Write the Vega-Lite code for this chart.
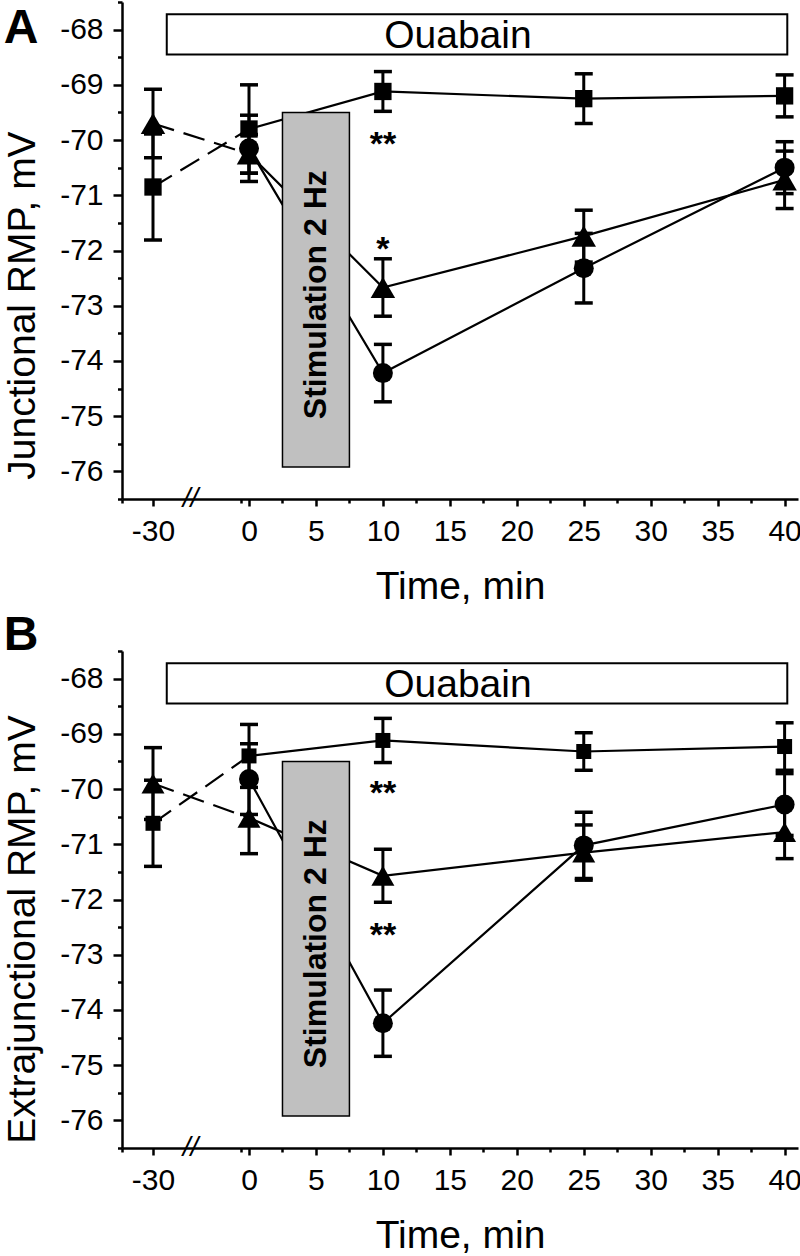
{
  "$schema": "https://vega.github.io/schema/vega-lite/v6.json",
  "background": "white",
  "padding": {"left": 3, "top": 0, "right": 0, "bottom": 0},
  "spacing": 5,
  "config": {
    "font": "Liberation Sans",
    "view": {"stroke": null},
    "axis": {
      "domainColor": "black", "domainWidth": 2.5, "tickColor": "black", "tickWidth": 2.5,
      "labelColor": "black", "titleColor": "black", "labelFont": "Liberation Sans", "titleFont": "Liberation Sans",
      "labelFontSize": 30, "titleFontSize": 39, "titleFontWeight": "normal", "grid": false,
      "labelExpr": "replace(datum.label, '\u2212', '-')"
    },
    "title": {"fontSize": 48, "fontWeight": "bold", "anchor": "start", "frame": "bounds", "baseline": "alphabetic", "offset": 2, "color": "black", "font": "Liberation Sans"}
  },
  "datasets": {
    "boxes": [
      {"kind": "ouabain", "t": -25.7, "t2": 40.2, "v": -67.72, "v2": -68.45},
      {"kind": "stim", "t": 2.5, "t2": 7.5, "v": -69.5, "v2": -75.92}
    ],
    "labels": [
      {"kind": "ouabain", "t": 15.6, "v": -68.12, "label": "Ouabain"},
      {"kind": "stim", "t": 5, "v": -72.8, "label": "Stimulation 2 Hz"},
      {"kind": "break", "t": -18.3, "v": -76.5, "label": "//"}
    ],
    "pointsA": [
      {"s": "circle", "t": 0, "v": -70.15, "e": 0.6},
      {"s": "circle", "t": 10, "v": -74.22, "e": 0.52},
      {"s": "circle", "t": 25, "v": -72.32, "e": 0.63},
      {"s": "circle", "t": 40, "v": -70.5, "e": 0.47},
      {"s": "square", "t": -30, "v": -70.85, "e": 0.96},
      {"s": "square", "t": 0, "v": -69.8, "e": 0.8},
      {"s": "square", "t": 10, "v": -69.12, "e": 0.36},
      {"s": "square", "t": 25, "v": -69.25, "e": 0.45},
      {"s": "square", "t": 40, "v": -69.2, "e": 0.38},
      {"s": "triangle", "t": -30, "v": -69.7, "e": 0.62},
      {"s": "triangle", "t": 0, "v": -70.25, "e": 0.35},
      {"s": "triangle", "t": 10, "v": -72.67, "e": 0.52},
      {"s": "triangle", "t": 25, "v": -71.74, "e": 0.47},
      {"s": "triangle", "t": 40, "v": -70.72, "e": 0.52}
    ],
    "pointsB": [
      {"s": "circle", "t": 0, "v": -69.82, "e": 0.64},
      {"s": "circle", "t": 10, "v": -74.24, "e": 0.6},
      {"s": "circle", "t": 25, "v": -71.02, "e": 0.6},
      {"s": "circle", "t": 40, "v": -70.28, "e": 0.56},
      {"s": "square", "t": -30, "v": -70.62, "e": 0.78},
      {"s": "square", "t": 0, "v": -69.4, "e": 0.57},
      {"s": "square", "t": 10, "v": -69.12, "e": 0.4},
      {"s": "square", "t": 25, "v": -69.32, "e": 0.34},
      {"s": "square", "t": 40, "v": -69.23, "e": 0.43},
      {"s": "triangle", "t": -30, "v": -69.9, "e": 0.65},
      {"s": "triangle", "t": 0, "v": -70.52, "e": 0.65},
      {"s": "triangle", "t": 10, "v": -71.57, "e": 0.48},
      {"s": "triangle", "t": 25, "v": -71.15, "e": 0.5},
      {"s": "triangle", "t": 40, "v": -70.78, "e": 0.48}
    ],
    "starsA": [
      {"t": 10, "v": -69.93, "label": "**"},
      {"t": 10, "v": -71.83, "label": "*"}
    ],
    "starsB": [
      {"t": 10, "v": -69.93, "label": "**"},
      {"t": 10, "v": -72.5, "label": "**"}
    ]
  },
  "vconcat": [
    {
      "width": 676, "height": 497,
      "title": {"text": "A", "dy": 54},
      "encoding": {
        "x": {"field": "t", "type": "quantitative", "scale": {"type": "linear", "domain": [-32.5, -30, 0, 41], "range": [0, 31, 127, 676], "nice": false, "zero": false}, "axis": null},
        "y": {"field": "v", "type": "quantitative", "scale": {"domain": [-76.5, -67.5], "nice": false, "zero": false}, "axis": null}
      },
      "resolve": {"axis": {"x": "independent", "y": "independent"}},
      "layer": [
        {
          "data": {"name": "boxes"},
          "transform": [{"filter": "datum.kind == 'ouabain'"}],
          "mark": {"type": "rect", "fill": "white", "stroke": "black", "strokeWidth": 2},
          "encoding": {
            "x": {"field": "t", "type": "quantitative", "scale": {"type": "linear", "domain": [-32.5, -30, 0, 41], "range": [0, 31, 127, 676], "nice": false, "zero": false},
              "axis": {"orient": "bottom", "values": [-30, 0, 5, 10, 15, 20, 25, 30, 35, 40], "title": "Time, min", "tickSize": 7, "labelPadding": 10, "titlePadding": 21, "labelFlush": false, "labelOverlap": false}},
            "y": {"field": "v", "type": "quantitative", "scale": {"domain": [-76.5, -67.5], "nice": false, "zero": false},
              "axis": {"orient": "left", "values": [-76, -75, -74, -73, -72, -71, -70, -69, -68], "title": "Junctional RMP, mV", "tickSize": 9, "labelPadding": 10, "titlePadding": 17, "titleY": 303, "labelOverlap": false}},
            "x2": {"field": "t2"},
            "y2": {"field": "v2"}
          }
        },
        {
          "data": {"name": "labels"},
          "transform": [{"filter": "datum.kind == 'ouabain'"}],
          "mark": {"type": "text", "fontSize": 39, "align": "center", "baseline": "middle", "color": "black"},
          "encoding": {
            "x": {"field": "t", "type": "quantitative", "scale": {"type": "linear", "domain": [-32.5, -30, 0, 41], "range": [0, 31, 127, 676], "nice": false, "zero": false},
              "axis": {"orient": "bottom", "values": [-32.5, -2.5, 2.5, 7.5, 12.5, 17.5, 22.5, 27.5, 32.5, 37.5], "labels": false, "domain": false, "title": null, "tickSize": 4}},
            "y": {"field": "v", "type": "quantitative", "scale": {"domain": [-76.5, -67.5], "nice": false, "zero": false},
              "axis": {"orient": "left", "values": [-76.5, -75.5, -74.5, -73.5, -72.5, -71.5, -70.5, -69.5, -68.5, -67.5], "labels": false, "domain": false, "title": null, "tickSize": 4.5}},
            "text": {"field": "label"}
          }
        },
        {
          "data": {"name": "pointsA"},
          "transform": [{"filter": "datum.t <= 0"}],
          "mark": {"type": "line", "color": "black", "strokeWidth": 2.2, "strokeDash": [22, 10]},
          "encoding": {"detail": {"field": "s"}}
        },
        {
          "data": {"name": "pointsA"},
          "transform": [{"filter": "datum.t >= 0"}],
          "mark": {"type": "line", "color": "black", "strokeWidth": 2.2},
          "encoding": {"detail": {"field": "s"}}
        },
        {
          "data": {"name": "boxes"},
          "transform": [{"filter": "datum.kind == 'stim'"}],
          "mark": {"type": "rect", "fill": "#c0c0c0", "stroke": "black", "strokeWidth": 1.5},
          "encoding": {"x2": {"field": "t2"}, "y2": {"field": "v2"}}
        },
        {
          "data": {"name": "labels"},
          "transform": [{"filter": "datum.kind == 'stim'"}],
          "mark": {"type": "text", "fontSize": 32, "fontWeight": "bold", "angle": 270, "align": "center", "baseline": "middle", "color": "black"},
          "encoding": {"text": {"field": "label"}}
        },
        {
          "data": {"name": "labels"},
          "transform": [{"filter": "datum.kind == 'break'"}],
          "mark": {"type": "text", "fontSize": 28, "fontStyle": "italic", "align": "center", "baseline": "middle", "color": "black"},
          "encoding": {"text": {"field": "label"}}
        },
        {
          "data": {"name": "pointsA"},
          "mark": {"type": "errorbar", "ticks": {"size": 18, "thickness": 3.5, "color": "black", "opacity": 1}, "rule": {"strokeWidth": 3, "color": "black", "opacity": 1}},
          "encoding": {"yError": {"field": "e"}}
        },
        {
          "data": {"name": "pointsA"},
          "transform": [{"filter": "datum.s == 'circle'"}],
          "mark": {"type": "point", "shape": "circle", "size": 400, "filled": true, "color": "black", "opacity": 1}
        },
        {
          "data": {"name": "pointsA"},
          "transform": [{"filter": "datum.s == 'square'"}],
          "mark": {"type": "point", "shape": "square", "size": 300, "filled": true, "color": "black", "opacity": 1}
        },
        {
          "data": {"name": "pointsA"},
          "transform": [{"filter": "datum.s == 'triangle'"}],
          "mark": {"type": "point", "shape": "triangle-up", "size": 600, "filled": true, "color": "black", "opacity": 1}
        },
        {
          "data": {"name": "starsA"},
          "mark": {"type": "text", "fontSize": 34, "fontWeight": "bold", "align": "center", "baseline": "alphabetic", "dy": 19, "color": "black"},
          "encoding": {"text": {"field": "label"}}
        }
      ]
    },
    {
      "width": 676, "height": 497,
      "title": {"text": "B", "dy": 12},
      "encoding": {
        "x": {"field": "t", "type": "quantitative", "scale": {"type": "linear", "domain": [-32.5, -30, 0, 41], "range": [0, 31, 127, 676], "nice": false, "zero": false}, "axis": null},
        "y": {"field": "v", "type": "quantitative", "scale": {"domain": [-76.5, -67.5], "nice": false, "zero": false}, "axis": null}
      },
      "resolve": {"axis": {"x": "independent", "y": "independent"}},
      "layer": [
        {
          "data": {"name": "boxes"},
          "transform": [{"filter": "datum.kind == 'ouabain'"}],
          "mark": {"type": "rect", "fill": "white", "stroke": "black", "strokeWidth": 2},
          "encoding": {
            "x": {"field": "t", "type": "quantitative", "scale": {"type": "linear", "domain": [-32.5, -30, 0, 41], "range": [0, 31, 127, 676], "nice": false, "zero": false},
              "axis": {"orient": "bottom", "values": [-30, 0, 5, 10, 15, 20, 25, 30, 35, 40], "title": "Time, min", "tickSize": 7, "labelPadding": 10, "titlePadding": 21, "labelFlush": false, "labelOverlap": false}},
            "y": {"field": "v", "type": "quantitative", "scale": {"domain": [-76.5, -67.5], "nice": false, "zero": false},
              "axis": {"orient": "left", "values": [-76, -75, -74, -73, -72, -71, -70, -69, -68], "title": "Extrajunctional RMP, mV", "tickSize": 9, "labelPadding": 10, "titlePadding": 17, "titleY": 278, "labelOverlap": false}},
            "x2": {"field": "t2"},
            "y2": {"field": "v2"}
          }
        },
        {
          "data": {"name": "labels"},
          "transform": [{"filter": "datum.kind == 'ouabain'"}],
          "mark": {"type": "text", "fontSize": 39, "align": "center", "baseline": "middle", "color": "black"},
          "encoding": {
            "x": {"field": "t", "type": "quantitative", "scale": {"type": "linear", "domain": [-32.5, -30, 0, 41], "range": [0, 31, 127, 676], "nice": false, "zero": false},
              "axis": {"orient": "bottom", "values": [-32.5, -2.5, 2.5, 7.5, 12.5, 17.5, 22.5, 27.5, 32.5, 37.5], "labels": false, "domain": false, "title": null, "tickSize": 4}},
            "y": {"field": "v", "type": "quantitative", "scale": {"domain": [-76.5, -67.5], "nice": false, "zero": false},
              "axis": {"orient": "left", "values": [-76.5, -75.5, -74.5, -73.5, -72.5, -71.5, -70.5, -69.5, -68.5, -67.5], "labels": false, "domain": false, "title": null, "tickSize": 4.5}},
            "text": {"field": "label"}
          }
        },
        {
          "data": {"name": "pointsB"},
          "transform": [{"filter": "datum.t <= 0"}],
          "mark": {"type": "line", "color": "black", "strokeWidth": 2.2, "strokeDash": [22, 10]},
          "encoding": {"detail": {"field": "s"}}
        },
        {
          "data": {"name": "pointsB"},
          "transform": [{"filter": "datum.t >= 0"}],
          "mark": {"type": "line", "color": "black", "strokeWidth": 2.2},
          "encoding": {"detail": {"field": "s"}}
        },
        {
          "data": {"name": "boxes"},
          "transform": [{"filter": "datum.kind == 'stim'"}],
          "mark": {"type": "rect", "fill": "#c0c0c0", "stroke": "black", "strokeWidth": 1.5},
          "encoding": {"x2": {"field": "t2"}, "y2": {"field": "v2"}}
        },
        {
          "data": {"name": "labels"},
          "transform": [{"filter": "datum.kind == 'stim'"}],
          "mark": {"type": "text", "fontSize": 32, "fontWeight": "bold", "angle": 270, "align": "center", "baseline": "middle", "color": "black"},
          "encoding": {"text": {"field": "label"}}
        },
        {
          "data": {"name": "labels"},
          "transform": [{"filter": "datum.kind == 'break'"}],
          "mark": {"type": "text", "fontSize": 28, "fontStyle": "italic", "align": "center", "baseline": "middle", "color": "black"},
          "encoding": {"text": {"field": "label"}}
        },
        {
          "data": {"name": "pointsB"},
          "mark": {"type": "errorbar", "ticks": {"size": 18, "thickness": 3.5, "color": "black", "opacity": 1}, "rule": {"strokeWidth": 3, "color": "black", "opacity": 1}},
          "encoding": {"yError": {"field": "e"}}
        },
        {
          "data": {"name": "pointsB"},
          "transform": [{"filter": "datum.s == 'circle'"}],
          "mark": {"type": "point", "shape": "circle", "size": 400, "filled": true, "color": "black", "opacity": 1}
        },
        {
          "data": {"name": "pointsB"},
          "transform": [{"filter": "datum.s == 'square'"}],
          "mark": {"type": "point", "shape": "square", "size": 225, "filled": true, "color": "black", "opacity": 1}
        },
        {
          "data": {"name": "pointsB"},
          "transform": [{"filter": "datum.s == 'triangle'"}],
          "mark": {"type": "point", "shape": "triangle-up", "size": 530, "filled": true, "color": "black", "opacity": 1}
        },
        {
          "data": {"name": "starsB"},
          "mark": {"type": "text", "fontSize": 34, "fontWeight": "bold", "align": "center", "baseline": "alphabetic", "dy": 19, "color": "black"},
          "encoding": {"text": {"field": "label"}}
        }
      ]
    }
  ]
}
